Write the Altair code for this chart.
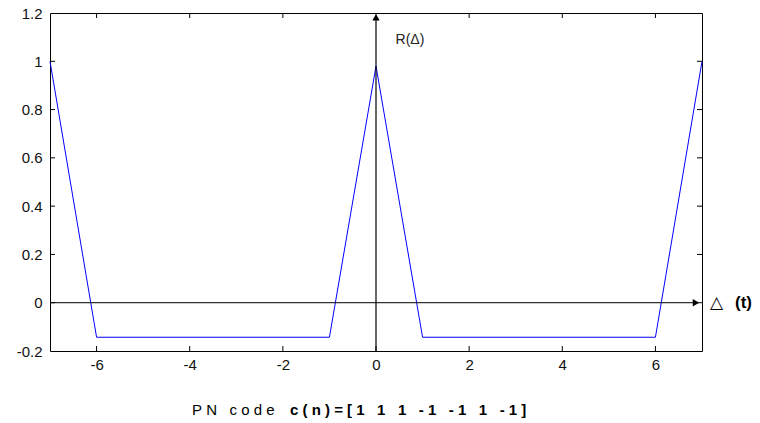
import altair as alt
import pandas as pd

# Autocorrelation of PN code c(n) = [1 1 1 -1 -1 1 -1]
lag = [-7, -6, -1, 0, 1, 6, 7]
r_val = [1.0, -0.143, -0.143, 0.98, -0.143, -0.143, 1.0]

x_ticks = [-6, -4, -2, 0, 2, 4, 6]
y_ticks = [-0.2, 0, 0.2, 0.4, 0.6, 0.8, 1, 1.2]

W, H = 652, 338
FONT = "Liberation Sans"

xs = alt.Scale(domain=[-7, 7], nice=False, zero=False)
ys = alt.Scale(domain=[-0.2, 1.2], nice=False, zero=False)

df = pd.DataFrame({"lag": lag, "r": r_val})

line = alt.Chart(df).mark_line(color="#0000FF", strokeWidth=1).encode(
    x=alt.X("lag:Q", scale=xs,
            axis=alt.Axis(values=x_ticks, title=None, ticks=False, domain=False, grid=False,
                          labelPadding=6, labelFontSize=15, labelFont=FONT, labelColor="#111",
                          labelExpr="toString(datum.value)")),
    y=alt.Y("r:Q", scale=ys,
            axis=alt.Axis(values=y_ticks, title=None, ticks=False, domain=False, grid=False,
                          labelPadding=8, labelFontSize=15, labelFont=FONT, labelColor="#111",
                          labelExpr="toString(datum.value)")),
)

xt = pd.DataFrame({"v": x_ticks})
yt = pd.DataFrame({"v": y_ticks[1:-1]})

tick_b = alt.Chart(xt).mark_rule(color="#000", strokeWidth=1).encode(
    x=alt.X("v:Q", scale=xs), y=alt.value(H), y2=alt.value(H - 5))
tick_t = alt.Chart(xt).mark_rule(color="#000", strokeWidth=1).encode(
    x=alt.X("v:Q", scale=xs), y=alt.value(0), y2=alt.value(5))
tick_l = alt.Chart(yt).mark_rule(color="#000", strokeWidth=1).encode(
    y=alt.Y("v:Q", scale=ys), x=alt.value(0), x2=alt.value(5))
tick_r = alt.Chart(yt).mark_rule(color="#000", strokeWidth=1).encode(
    y=alt.Y("v:Q", scale=ys), x=alt.value(W), x2=alt.value(W - 5))

# axis arrows
vline = alt.Chart(pd.DataFrame({"x": [0], "y": [-0.2], "y2": [1.18]})).mark_rule(
    color="#000", strokeWidth=1.2).encode(
    x=alt.X("x:Q", scale=xs), y=alt.Y("y:Q", scale=ys), y2="y2:Q")
hline = alt.Chart(pd.DataFrame({"x": [-7], "x2": [6.85], "y": [0]})).mark_rule(
    color="#000", strokeWidth=1).encode(
    x=alt.X("x:Q", scale=xs), x2="x2:Q", y=alt.Y("y:Q", scale=ys))
head_up = alt.Chart(pd.DataFrame({"x": [0], "y": [1.182]})).mark_point(
    shape="triangle-up", filled=True, color="#000", size=55, opacity=1).encode(
    x=alt.X("x:Q", scale=xs), y=alt.Y("y:Q", scale=ys))
head_r = alt.Chart(pd.DataFrame({"x": [6.87], "y": [0]})).mark_point(
    shape="triangle-right", filled=True, color="#000", size=55, opacity=1).encode(
    x=alt.X("x:Q", scale=xs), y=alt.Y("y:Q", scale=ys))

r_label = alt.Chart(pd.DataFrame({"x": [0.42], "y": [1.088], "t": ["R(Δ)"]})).mark_text(
    align="left", baseline="middle", font=FONT, fontSize=14, color="#222").encode(
    x=alt.X("x:Q", scale=xs), y=alt.Y("y:Q", scale=ys), text="t:N")

d_label = alt.Chart(pd.DataFrame({"y": [0], "t": ["△"]})).mark_text(
    align="left", baseline="middle", font="DejaVu Sans", fontSize=17, color="#000").encode(
    x=alt.value(W + 8), y=alt.Y("y:Q", scale=ys), text="t:N")
t_label = alt.Chart(pd.DataFrame({"y": [0], "t": ["(t)"]})).mark_text(
    align="left", baseline="middle", font=FONT, fontSize=17, fontWeight="bold", color="#000").encode(
    x=alt.value(W + 33), y=alt.Y("y:Q", scale=ys), text="t:N")

sp = "\u00a0"
cap1 = sp.join("PN") + sp * 3 + sp.join("code")
cap2 = sp.join("c(n)=[1") + sp * 3 + (sp * 3).join(["1", "1", "-" + sp + "1", "-" + sp + "1", "1", "-" + sp + "1" + sp + "]"])
c1 = alt.Chart(pd.DataFrame({"t": [cap1]})).mark_text(
    align="left", baseline="middle", font=FONT, fontSize=15, color="#000").encode(
    x=alt.value(142), y=alt.value(397), text="t:N")
c2 = alt.Chart(pd.DataFrame({"t": [cap2]})).mark_text(
    align="left", baseline="middle", font=FONT, fontSize=15, fontWeight="bold", color="#000").encode(
    x=alt.value(240), y=alt.value(397), text="t:N")

chart = alt.layer(
    line, tick_b, tick_t, tick_l, tick_r, hline, vline, head_up, head_r,
    r_label, d_label, t_label, c1, c2
).properties(
    width=W, height=H,
    autosize=alt.AutoSizeParams(type="none"),
    padding={"left": 42, "top": 5, "right": 50, "bottom": 72},
    background="white",
).configure_view(stroke="#000", strokeWidth=1)

chart.save("out.html", embed_options={"renderer": "svg", "actions": False})
